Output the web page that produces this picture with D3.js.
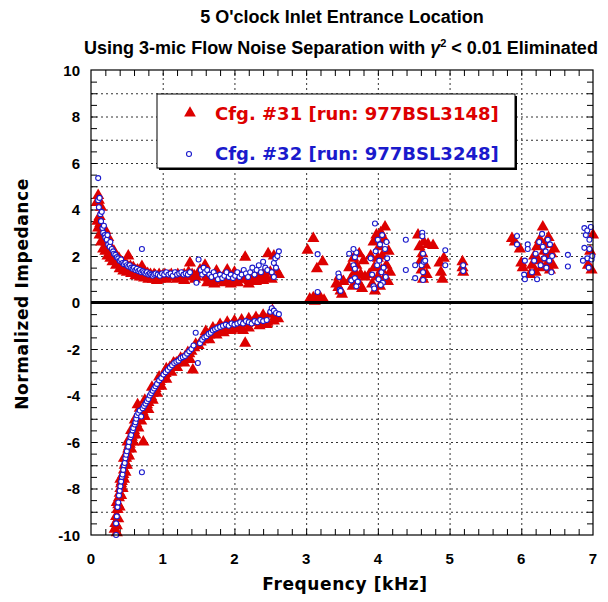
<!DOCTYPE html>
<html><head><meta charset="utf-8">
<script src="https://cdn.jsdelivr.net/npm/d3@7"></script>
<style>body{margin:0;background:#fff}svg{display:block}</style>
</head><body><svg id="c" width="608" height="602"></svg>
<script>
const titleLine1 = "5 O'clock Inlet Entrance Location";
const titleLine2a = "Using 3-mic Flow Noise Separation with ";
const titleLine2b = " < 0.01 Eliminated";
const xLabel = "Frequency [kHz]";
const yLabel = "Normalized Impedance";
const legendLabels = ["Cfg. #31 [run: 977BSL3148]", "Cfg. #32 [run: 977BSL3248]"];
const xTickLabels = [0,1,2,3,4,5,6,7];
const yTickLabels = [-10,-8,-6,-4,-2,0,2,4,6,8,10];

// Cfg #31 (red triangles): [kHz, impedance]
const cfg31Pos = [[0.08,4.3],[0.10,4.6],[0.11,4.4],[0.12,3.7],[0.13,3.4],[0.14,4.1],[0.15,3.0],[0.16,3.2],[0.17,2.9],[0.18,2.7],[0.20,3.1],[0.21,2.6],[0.22,2.5],[0.24,2.8],[0.25,2.3],[0.27,2.4],[0.28,2.2],[0.30,2.1],[0.32,2.2],[0.34,1.9],[0.35,2.0],[0.37,1.8],[0.39,1.9],[0.40,1.7],[0.42,1.75],[0.44,1.6],[0.46,1.7],[0.48,1.55],[0.50,1.6],[0.52,2.0],[0.53,1.5],[0.55,1.55],[0.57,1.45],[0.59,1.5],[0.61,1.4],[0.63,1.35],[0.65,1.4],[0.67,1.3],[0.69,1.35],[0.71,1.55],[0.73,1.25],[0.75,1.3],[0.77,1.2],[0.79,1.25],[0.81,1.15],[0.83,1.2],[0.85,1.1],[0.88,1.2],[0.90,1.15],[0.93,1.1],[0.95,1.2],[0.98,1.1],[1.00,1.15],[1.03,1.2],[1.06,1.1],[1.09,1.15],[1.12,1.2],[1.15,1.1],[1.18,1.15],[1.21,1.2],[1.24,1.1],[1.27,1.15],[1.30,1.2],[1.33,1.1],[1.36,1.3],[1.38,1.7],[1.41,1.2],[1.44,1.15],[1.47,1.1],[1.52,1.4],[1.55,1.3],[1.59,1.6],[1.61,1.1],[1.64,1.05],[1.67,1.0],[1.70,1.1],[1.73,1.0],[1.76,0.95],[1.79,1.05],[1.82,1.0],[1.85,1.1],[1.88,1.0],[1.91,0.95],[1.94,1.1],[1.97,1.0],[2.00,0.9],[2.03,1.05],[2.06,1.0],[2.09,1.1],[2.12,1.2],[2.15,1.95],[2.18,1.0],[2.21,0.95],[2.24,1.1],[2.27,1.0],[2.30,1.2],[2.33,1.05],[2.36,1.1],[2.40,1.2],[2.44,1.1],[2.47,2.1],[2.50,1.3],[2.52,1.0],[2.55,2.0],[2.58,1.4],[2.62,1.2],
[0.09,3.5],[0.10,3.2],[0.12,2.9],[0.14,2.6],[0.17,2.3],[0.20,2.2],[0.23,2.0],[0.27,1.9],[0.30,1.75],[0.35,1.6],[0.40,1.45],[0.45,1.35],[0.50,1.3],[0.56,1.25],[0.62,1.15],[0.68,1.1],[0.74,1.05],[0.80,1.0],[0.86,1.0],[0.92,0.95],[0.96,1.0],[1.05,1.0],[1.20,1.0],[1.30,0.95],[1.45,1.0],
[1.62,0.85],[1.72,0.8],[1.85,0.85],[1.95,0.8],[2.05,0.85],[2.20,0.8],[2.30,0.9],[2.40,0.95],[1.75,1.35],[1.90,1.4],[2.00,1.3],
[3.02,2.25],[3.10,2.75],[3.15,1.45],[3.23,1.75],[3.05,0.15],[3.10,0.2],[3.15,0.25],[3.20,0.2],[3.25,0.1],[3.12,0.05],[3.18,0.1],
[3.42,0.8],[3.46,1.1],[3.48,0.5],[3.50,0.35],[3.45,0.65],[3.52,0.9],
[3.60,1.5],[3.62,1.0],[3.65,0.7],[3.68,1.3],[3.70,1.6],[3.72,0.9],[3.74,2.1],[3.76,1.2],[3.78,0.6],[3.80,1.8],[3.66,1.9],[3.82,1.1],
[3.88,1.2],[3.90,2.0],[3.92,0.8],[3.94,2.6],[3.95,1.5],[3.96,0.5],[3.98,2.9],[4.00,1.1],[4.00,1.9],[4.02,2.4],[4.03,0.7],[4.04,3.0],[4.05,1.4],[4.06,2.0],[4.08,1.0],[4.09,2.7],[4.10,3.25],[4.12,1.6],[4.14,0.9],[4.15,2.2],[4.17,1.3],
[4.56,2.9],[4.58,2.4],[4.60,1.8],[4.61,1.4],[4.62,2.1],[4.63,1.0],[4.64,2.6],[4.66,1.6],[4.68,1.2],[4.70,2.5],[4.77,2.45],[4.86,1.7],[4.88,1.3],[4.90,1.0],[4.92,1.9],
[5.18,1.75],[5.18,1.5],[5.19,1.3],
[5.87,2.75],[5.91,2.6],[5.98,2.3],[6.00,1.7],[6.02,1.5],
[6.12,1.2],[6.15,1.6],[6.18,2.0],[6.20,1.3],[6.22,2.4],[6.24,1.8],[6.26,2.7],[6.28,1.5],[6.30,3.25],[6.32,2.2],[6.33,1.9],[6.35,2.5],[6.37,1.7],[6.38,2.8],[6.40,1.4],[6.42,2.1],[6.44,1.6],[6.46,2.3],
[6.93,1.6],[6.98,1.4],[7.0,2.9],[6.96,2.2]];
const cfg31Neg = [[0.33,-9.75],[0.34,-9.5],[0.35,-9.2],[0.36,-9.6],[0.37,-8.9],[0.38,-8.7],[0.39,-8.4],[0.40,-8.2],[0.41,-8.0],[0.42,-7.8],[0.43,-7.7],[0.44,-7.5],[0.45,-7.4],[0.46,-7.2],[0.47,-7.0],[0.48,-6.9],[0.49,-6.7],[0.50,-6.6],[0.51,-6.5],[0.52,-6.3],[0.53,-6.2],[0.54,-6.1],[0.55,-6.0],[0.56,-5.9],[0.57,-5.8],[0.58,-5.7],[0.59,-5.55],[0.60,-5.5],[0.61,-5.35],[0.62,-5.3],[0.63,-5.2],[0.64,-5.05],[0.65,-4.4],[0.66,-5.0],[0.68,-4.9],[0.70,-4.8],[0.72,-4.7],[0.73,-6.0],[0.74,-4.6],[0.76,-4.5],[0.78,-4.4],[0.80,-4.3],[0.82,-4.15],[0.84,-4.05],[0.86,-3.9],[0.88,-3.8],[0.90,-3.7],[0.92,-3.6],[0.94,-3.5],[0.96,-3.4],[0.98,-3.3],[1.00,-3.2],[1.02,-3.1],[1.04,-3.05],[1.06,-2.95],[1.08,-2.9],[1.10,-2.8],[1.13,-2.75],[1.16,-2.65],[1.19,-2.6],[1.22,-2.55],[1.25,-2.5],[1.28,-2.45],[1.31,-2.35],[1.34,-2.3],[1.37,-2.2],[1.40,-2.1],[1.42,-2.9],[1.44,-1.95],[1.46,-1.8],[1.50,-1.85],[1.53,-1.7],[1.56,-1.6],[1.59,-1.5],[1.62,-1.45],[1.65,-1.4],[1.68,-1.3],[1.71,-1.25],[1.74,-1.2],[1.77,-1.15],[1.80,-1.1],[1.84,-1.1],[1.88,-1.05],[1.92,-1.0],[1.96,-1.0],[2.00,-0.95],[2.04,-1.05],[2.08,-0.9],[2.12,-1.2],[2.15,-1.75],[2.18,-0.9],[2.22,-0.85],[2.26,-0.85],[2.30,-0.8],[2.34,-0.8],[2.38,-0.75],[2.42,-0.7],[2.46,-0.85],[2.50,-0.5],[2.53,-0.35],[2.57,-0.6],[2.61,-0.7],
[0.36,-9.9],[0.38,-9.3],[0.40,-8.8],[0.42,-8.3],[0.44,-8.0],[0.46,-7.6],[0.48,-7.3],[0.50,-7.0],[0.53,-6.6],[0.56,-6.3],[0.59,-6.0],[0.62,-5.7],[0.66,-5.4],[0.70,-5.1],[0.75,-4.9],[0.80,-4.6],[0.86,-4.2],[0.92,-3.9],[0.98,-3.6],[1.05,-3.3],[1.12,-3.0],[1.20,-2.8],[1.30,-2.6],[1.38,-2.45],
[0.36,-8.6],[0.41,-7.6],[0.46,-6.7],[0.51,-6.0],[0.56,-5.5],[0.61,-5.05],[0.68,-4.55],[0.75,-4.2],[0.85,-3.65],[0.95,-3.2],[1.05,-2.85],[1.15,-2.6],[1.25,-2.4],[1.35,-2.15],
[1.60,-1.25],[1.70,-1.1],[1.80,-0.95],[1.90,-0.85],[2.00,-0.8],[2.10,-0.75],[2.20,-0.7],[2.30,-0.65],[2.40,-0.55],
[1.65,-1.6],[1.75,-1.4],[1.85,-1.3],[1.95,-1.2],[2.05,-1.15],[2.20,-1.1],[2.35,-1.0],[2.45,-0.95],[2.55,-0.8]];

// Cfg #32 (blue circles): [kHz, impedance]
const cfg32Pos = [[0.10,5.35],[0.10,4.4],[0.11,4.1],[0.12,4.5],[0.13,3.8],[0.14,3.5],[0.15,3.9],[0.16,3.2],[0.17,3.0],[0.18,3.3],[0.19,2.9],[0.20,2.8],[0.22,2.7],[0.23,2.9],[0.24,2.5],[0.26,2.4],[0.27,2.6],[0.29,2.3],[0.31,2.2],[0.32,2.1],[0.34,2.05],[0.36,1.95],[0.38,1.9],[0.40,1.8],[0.42,1.85],[0.44,1.7],[0.46,1.65],[0.48,1.7],[0.50,1.6],[0.52,1.55],[0.54,1.6],[0.56,1.5],[0.58,1.45],[0.60,1.5],[0.62,1.4],[0.64,1.45],[0.66,1.35],[0.68,1.4],[0.70,1.3],[0.71,2.3],[0.72,1.35],[0.74,1.3],[0.76,1.25],[0.78,1.3],[0.80,1.2],[0.82,1.25],[0.84,1.2],[0.86,1.15],[0.88,1.2],[0.90,1.25],[0.93,1.2],[0.96,1.15],[0.99,1.25],[1.02,1.2],[1.05,1.3],[1.08,1.2],[1.11,1.25],[1.14,1.15],[1.17,1.3],[1.20,1.2],[1.23,1.25],[1.26,1.3],[1.29,1.2],[1.32,1.25],[1.35,1.2],[1.38,1.3],[1.47,0.85],[1.50,1.85],[1.53,1.4],[1.55,1.2],[1.57,1.5],[1.59,1.3],[1.62,1.4],[1.65,1.2],[1.68,1.1],[1.71,1.3],[1.74,1.15],[1.77,1.0],[1.80,1.2],[1.83,1.05],[1.86,1.15],[1.89,1.3],[1.92,1.1],[1.95,1.2],[1.98,1.05],[2.01,1.15],[2.04,1.3],[2.07,1.1],[2.10,1.2],[2.13,1.4],[2.16,1.25],[2.19,1.1],[2.22,1.3],[2.25,1.5],[2.28,1.2],[2.31,1.4],[2.34,1.6],[2.37,1.3],[2.40,1.75],[2.43,1.5],[2.46,1.4],[2.52,1.3],[2.55,1.7],[2.57,1.9],[2.60,2.0],[2.62,2.2],[2.55,1.1],[2.58,1.5],
[3.16,2.08],[3.16,0.45],
[3.45,1.25],[3.46,1.1],[3.47,0.55],[3.48,0.5],
[3.60,2.1],[3.68,1.95],[3.70,2.15],[3.66,1.6],[3.68,1.45],[3.63,0.95],[3.68,1.05],[3.70,0.7],[3.72,0.9],[3.66,2.3],
[3.90,1.9],[3.92,1.2],[3.94,0.7],[3.96,3.4],[3.97,2.2],[3.99,1.6],[4.00,2.7],[4.01,1.0],[4.02,1.8],[4.03,2.5],[4.05,1.3],[4.06,2.9],[4.07,0.85],[4.08,1.5],[4.10,2.3],[4.11,1.1],[4.12,2.6],[4.13,1.9],[3.95,0.6],[4.04,0.75],
[4.39,2.7],[4.39,1.4],[4.52,1.6],[4.52,1.05],[4.62,3.0],[4.62,2.85],[4.63,2.1],[4.61,1.6],[4.64,1.75],[4.66,1.8],[4.63,1.3],[4.63,0.97],[4.94,2.25],[4.94,1.6],
[5.19,1.6],[5.19,1.35],
[5.94,2.86],[5.94,2.5],[6.09,2.5],[6.09,2.3],[6.05,1.8],[6.04,1.2],[6.05,1.0],
[6.15,1.3],[6.18,1.8],[6.20,2.1],[6.22,1.0],[6.25,2.6],[6.27,1.6],[6.29,2.95],[6.30,2.4],[6.32,1.9],[6.34,2.2],[6.35,1.5],[6.37,2.7],[6.39,1.8],[6.40,2.5],[6.42,1.3],[6.43,2.0],
[6.65,2.05],[6.65,1.55],
[6.88,3.2],[6.90,2.9],[6.92,3.1],[6.95,2.7],[6.97,3.25],[6.88,2.35],[6.92,1.9],[6.95,2.3],[6.98,1.85],[6.86,1.8],[6.94,1.5],[6.99,2.0]];
const cfg32Neg = [[0.35,-10.0],[0.35,-9.5],[0.36,-9.2],[0.37,-8.8],[0.38,-8.6],[0.39,-8.3],[0.40,-8.1],[0.41,-7.9],[0.42,-7.7],[0.43,-7.5],[0.44,-7.4],[0.45,-7.2],[0.46,-7.0],[0.47,-6.9],[0.48,-6.7],[0.49,-6.55],[0.50,-6.4],[0.52,-6.2],[0.53,-6.0],[0.55,-5.8],[0.56,-5.7],[0.58,-5.5],[0.59,-5.4],[0.61,-5.25],[0.62,-5.15],[0.63,-5.0],[0.64,-4.85],[0.66,-4.75],[0.68,-4.65],[0.70,-4.9],[0.71,-7.3],[0.72,-4.55],[0.74,-4.45],[0.76,-4.35],[0.78,-4.25],[0.80,-4.15],[0.82,-4.0],[0.84,-3.9],[0.86,-3.8],[0.88,-3.7],[0.90,-3.6],[0.92,-3.5],[0.95,-3.35],[0.98,-3.25],[1.01,-3.1],[1.04,-3.0],[1.07,-2.9],[1.10,-2.8],[1.13,-2.7],[1.16,-2.6],[1.19,-2.55],[1.22,-2.5],[1.25,-2.4],[1.28,-2.35],[1.31,-2.3],[1.34,-2.2],[1.37,-2.1],[1.40,-2.0],[1.43,-1.85],[1.46,-1.3],[1.49,-2.6],[1.52,-1.75],[1.55,-1.6],[1.58,-1.5],[1.61,-1.45],[1.64,-1.35],[1.67,-1.3],[1.70,-1.2],[1.73,-1.15],[1.76,-1.1],[1.80,-1.05],[1.84,-1.0],[1.88,-0.95],[1.92,-1.0],[1.96,-0.9],[2.00,-0.95],[2.04,-0.9],[2.08,-0.85],[2.12,-0.9],[2.16,-0.8],[2.20,-0.85],[2.24,-0.9],[2.28,-0.8],[2.32,-0.85],[2.36,-0.75],[2.40,-0.8],[2.45,-0.75],[2.50,-0.4],[2.52,-0.25],[2.55,-0.35],[2.58,-0.45],[2.62,-0.5]];

const RED = "#dd0000", BLUE = "#1a1acc";
const svg = d3.select("#c");
const L = 91, R = 593, T = 70, B = 535;
const x = d3.scaleLinear().domain([0,7]).range([L,R]);
const y = d3.scaleLinear().domain([-10,10]).range([B,T]);

// grid
svg.append("g").attr("transform",`translate(0,${B})`)
  .call(d3.axisBottom(x).tickValues(d3.range(1,7)).tickSize(-(B-T)).tickFormat(""))
  .call(g=>g.select(".domain").remove())
  .call(g=>g.selectAll("line").attr("stroke","#333").attr("stroke-dasharray","2,3"));
svg.append("g").attr("transform",`translate(${L},0)`)
  .call(d3.axisLeft(y).tickValues(d3.range(-9,10).filter(v=>v!==0)).tickSize(-(R-L)).tickFormat(""))
  .call(g=>g.select(".domain").remove())
  .call(g=>g.selectAll("line").attr("stroke","#333").attr("stroke-dasharray","2,3"));

// inside ticks
const yMinor = d3.range(-9.5,10,0.5);
const xMinor = d3.range(0.2,7,0.2);
function ticks(axisFn, scale, vals, tr, len){
  svg.append("g").attr("transform",tr)
    .call(axisFn(scale).tickValues(vals).tickSize(len).tickFormat(""))
    .call(g=>g.select(".domain").remove())
    .call(g=>g.selectAll("line").attr("stroke","#000"));
}
ticks(d3.axisLeft, y, yMinor, `translate(${L},0)`, -6);
ticks(d3.axisRight, y, yMinor, `translate(${R},0)`, -6);
ticks(d3.axisBottom, x, xMinor, `translate(0,${B})`, -6);
ticks(d3.axisTop, x, xMinor, `translate(0,${T})`, -6);

// points
const tri = d3.symbol().type(d3.symbolTriangle).size(64);
const gR = svg.append("g");
gR.selectAll("path").data(cfg31Pos.concat(cfg31Neg)).join("path")
  .attr("d",tri).attr("fill",RED)
  .attr("transform",d=>`translate(${x(d[0])},${y(d[1])})`);
const gB = svg.append("g");
gB.selectAll("circle").data(cfg32Pos.concat(cfg32Neg)).join("circle")
  .attr("cx",d=>x(d[0])).attr("cy",d=>y(d[1])).attr("r",2.5)
  .attr("fill","#fff").attr("stroke",BLUE).attr("stroke-width",1.1);

// zero line
svg.append("line").attr("x1",L).attr("x2",R).attr("y1",y(0)).attr("y2",y(0))
  .attr("stroke","#000").attr("stroke-width",3);

// frame
svg.append("rect").attr("x",L).attr("y",T).attr("width",R-L).attr("height",B-T)
  .attr("fill","none").attr("stroke","#000").attr("stroke-width",1.2);

// tick labels
const lblFont = "'Liberation Sans', Arial, sans-serif";
svg.append("g").selectAll("text").data(yTickLabels).join("text")
  .attr("x",L-11).attr("y",d=>y(d)+5.5).attr("text-anchor","end")
  .attr("font-family",lblFont).attr("font-weight","bold").attr("font-size",15).text(d=>d);
svg.append("g").selectAll("text").data(xTickLabels).join("text")
  .attr("x",d=>x(d)).attr("y",B+29).attr("text-anchor","middle")
  .attr("font-family",lblFont).attr("font-weight","bold").attr("font-size",15).text(d=>d);

// axis titles
svg.append("text").attr("x",345).attr("y",590).attr("text-anchor","middle")
  .attr("font-family","'DejaVu Sans', Verdana, sans-serif").attr("font-weight","bold").attr("font-size",17)
  .attr("letter-spacing",0.6).text(xLabel);
svg.append("text").attr("transform","translate(28,294) rotate(-90)").attr("text-anchor","middle")
  .attr("font-family","'DejaVu Sans', Verdana, sans-serif").attr("font-weight","bold").attr("font-size",17)
  .attr("letter-spacing",0.6).text(yLabel);

// title
svg.append("text").attr("x",342).attr("y",23).attr("text-anchor","middle")
  .attr("font-family",lblFont).attr("font-weight","bold").attr("font-size",18).text(titleLine1);
const t2 = svg.append("text").attr("x",341).attr("y",54).attr("text-anchor","middle")
  .attr("font-family",lblFont).attr("font-weight","bold").attr("font-size",18);
t2.append("tspan").text(titleLine2a);
t2.append("tspan").attr("font-style","italic").text("γ");
t2.append("tspan").attr("dy",-7).attr("font-size",11).text("2");
t2.append("tspan").attr("dy",7).text(titleLine2b);

// legend
const lg = svg.append("g");
lg.append("rect").attr("x",159).attr("y",96).attr("width",358).attr("height",74).attr("fill","#000");
lg.append("rect").attr("x",157).attr("y",94).attr("width",358).attr("height",74)
  .attr("fill","#fff").attr("stroke","#000").attr("stroke-width",1);
lg.append("path").attr("d",d3.symbol().type(d3.symbolTriangle).size(60)).attr("fill",RED)
  .attr("transform","translate(190,113)");
lg.append("circle").attr("cx",189).attr("cy",154).attr("r",2.5).attr("fill","#fff").attr("stroke",BLUE).attr("stroke-width",1.1);
lg.append("text").attr("x",215).attr("y",120).attr("fill",RED)
  .attr("font-family","'DejaVu Sans', Verdana, sans-serif").attr("font-weight","bold").attr("font-size",18).text(legendLabels[0]);
lg.append("text").attr("x",215).attr("y",160).attr("fill",BLUE)
  .attr("font-family","'DejaVu Sans', Verdana, sans-serif").attr("font-weight","bold").attr("font-size",18).text(legendLabels[1]);
</script></body></html>
